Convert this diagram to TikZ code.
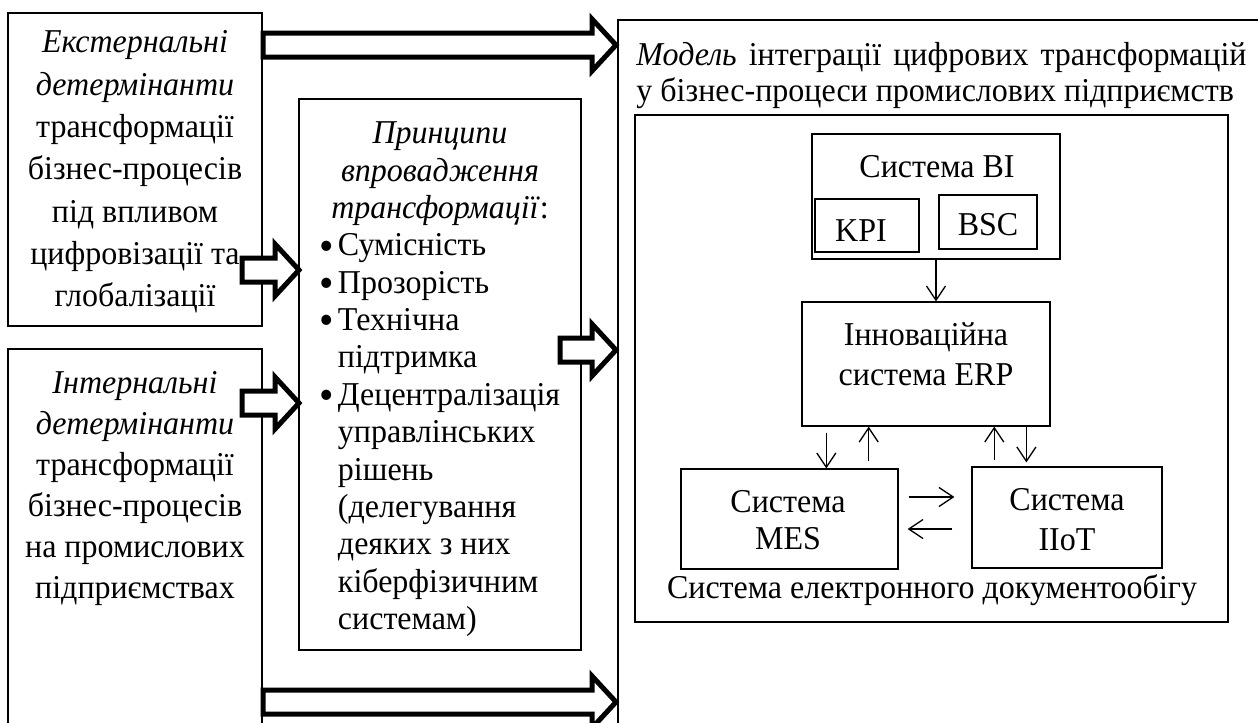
\documentclass[tikz,border=0pt]{standalone}
\usepackage{fontspec}
\setmainfont{Liberation Serif}[FakeStretch=0.96]
\usepackage{tikz}
\usetikzlibrary{arrows.meta}
\usetikzlibrary{calc}
\usetikzlibrary{fit}

\tikzset{
  sysbox/.style={draw, line width=0.5pt, inner sep=0pt},
  bigarrow/.style={draw, fill=white, line width=2.1pt, line join=miter},
  link/.style={-{Straight Barb[length=6pt,width=8pt]}, line width=0.55pt},
}

\newcommand{\fatarrow}[2]{%
  \draw[bigarrow] ($(#1)+(0,-12)$) -- ($(#2)+(-24,-12)$) -- ($(#2)+(-24,-26)$)
    -- (#2) -- ($(#2)+(-24,26)$) -- ($(#2)+(-24,12)$) -- ($(#1)+(0,12)$) -- cycle;}
\newcommand{\pbul}{\makebox[7.6pt][l]{\raisebox{-1.8pt}{\fontsize{18}{18}\selectfont •}}}
\newcommand{\pind}{\hspace*{7.6pt}}

\begin{document}
\begin{tikzpicture}[x=0.42pt,y=-0.42pt,font=\fontsize{14}{16.8}\selectfont,inner sep=0pt]
    \useasboundingbox (0,0) rectangle (1258,722);
    \clip (0,0) rectangle (1258,722);

    % left column
    \node[sysbox, fit={(8,13) (262,326)}] (ext) {};
    \node[align=center, font=\fontsize{14}{17.8}\selectfont] (exttxt) at (135,172)
        {\textit{Екстернальні}\\\textit{детермінанти}\\трансформації\\бізнес-процесів\\під впливом\\цифровізації та\\глобалізації};
    \node[sysbox, fit={(8,349) (262,800)}] (int) {};
    \node[anchor=north, align=center, font=\fontsize{14}{17.2}\selectfont] (inttxt) at (135,371)
        {\textit{Інтернальні}\\\textit{детермінанти}\\трансформації\\бізнес-процесів\\на промислових\\підприємствах};

    % principles
    \node[sysbox, fit={(299,99) (581,650)}] (prin) {};
    \node[anchor=north, font=\fontsize{14}{15.7}\selectfont] (printxt) at (440,117) {%
        \begin{tabular}{@{}l@{}}
        \multicolumn{1}{@{}c@{}}{\textit{Принципи}}\\
        \multicolumn{1}{@{}c@{}}{\textit{впровадження}}\\
        \multicolumn{1}{@{}c@{}}{\textit{трансформації}:}\\
        \pbul Сумісність\\
        \pbul Прозорість\\
        \pbul Технічна\\
        \pind підтримка\\
        \pbul Децентралізація\\
        \pind управлінських\\
        \pind рішень\\
        \pind (делегування\\
        \pind деяких з них\\
        \pind кіберфізичним\\
        \pind системам)
        \end{tabular}};

    % model
    \node[sysbox, fit={(618,20) (1300,800)}] (model) {};
    \node[anchor=north west, align=left, font=\fontsize{14}{15}\selectfont] (title) at (636,42)
        {\makebox[256.2pt][s]{\textit{Модель} інтеграції цифрових трансформацій}\\у бізнес-процеси промислових підприємств};
    \node[sysbox, fit={(635,115) (1228,622)}] (inner) {};

    \node[sysbox, fit={(812,134) (1060,259)}] (bi) {};
    \node (bititle) at (937,167) {Система BI};
    \node[sysbox, fit={(815,199) (919,252)}] (kpi) {};
    \node (kpitxt) at (861,231) {KPI};
    \node[sysbox, fit={(939,195) (1037,249)}] (bsc) {};
    \node (bsctxt) at (988,225) {BSC};

    \node[sysbox, fit={(802,302) (1050,426)}] (erp) {};
    \node[align=center] (erptxt) at (926,354) {Інноваційна\\система ERP};

    \node[sysbox, fit={(681,469) (898,569)}] (mes) {};
    \node[align=center, font=\fontsize{14}{15.5}\selectfont] (mestxt) at (788,520) {Система\\MES};
    \node[sysbox, fit={(972,467) (1162,568)}] (iiot) {};
    \node[align=center] (iiottxt) at (1067,520) {Система\\IIoT};
    \node (edo) at (932,590) {Система електронного документообігу};

    % links inside the model
    \draw[link] (bi.south) -- (bi.south |- erp.north);
    \coordinate (e1) at ($(erp.south west)!0.1!(erp.south east)$);
    \coordinate (e2) at ($(erp.south west)!0.27!(erp.south east)$);
    \coordinate (e3) at ($(erp.south west)!0.774!(erp.south east)$);
    \coordinate (e4) at ($(erp.south west)!0.903!(erp.south east)$);
    \draw[link] ($(e1)+(0,6)$) -- (e1 |- mes.north);
    \draw[link] ($(e2 |- mes.north)+(0,-7)$) -- (e2);
    \draw[link] ($(e3 |- iiot.north)+(0,-6)$) -- (e3);
    \draw[link] (e4) -- ($(e4 |- iiot.north)+(0,-4)$);
    \draw[link] ($(mes.east)+(10,-22)$) -- ($(iiot.west |- mes.east)+(-17,-22)$);
    \draw[link] ($(iiot.west |- mes.east)+(-19,10)$) -- ($(mes.east)+(9,10)$);

    % big arrows
    \coordinate (a1s) at (263,45);
    \coordinate (a1e) at (616,45);
    \coordinate (a2s) at (242,270);
    \coordinate (a2e) at (299,270);
    \coordinate (a3s) at (242,403);
    \coordinate (a3e) at (299,403);
    \coordinate (a4s) at (560,350);
    \coordinate (a4e) at (616,350);
    \coordinate (a5s) at (263,702);
    \coordinate (a5e) at (616,702);
    \fatarrow{a1s}{a1e}
    \fatarrow{a2s}{a2e}
    \fatarrow{a3s}{a3e}
    \fatarrow{a4s}{a4e}
    \fatarrow{a5s}{a5e}
\end{tikzpicture}
\end{document}
